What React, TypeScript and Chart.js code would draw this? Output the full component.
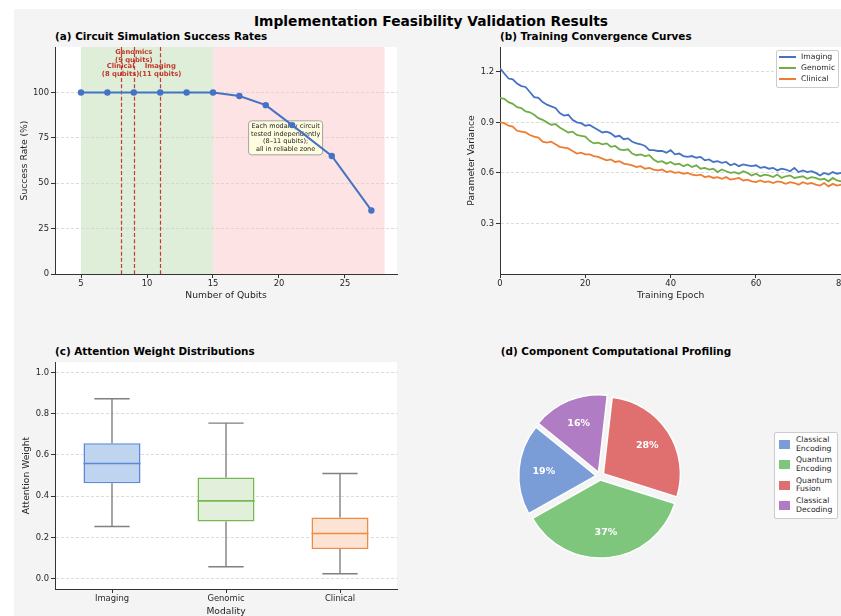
import React, { useEffect, useRef } from 'react';
import { Chart, registerables } from 'chart.js';

Chart.register(...registerables);

// ---------------- Data ----------------
// (a) Circuit simulation success rates
const QUBITS = [5, 7, 9, 11, 13, 15, 17, 19, 21, 24, 27];
const SUCCESS_RATE = [100, 100, 100, 100, 100, 100, 98, 93, 82, 65, 35];
const RELIABLE_ZONE = [5, 15];
const NOISY_ZONE = [15, 28];
const MODALITY_CIRCUITS = ['Clinical', 'Genomics', 'Imaging'];
const MODALITY_QUBITS = [8, 9, 11];
const QUBIT_TICKS = [5, 10, 15, 20, 25];
const SUCCESS_TICKS = [0, 25, 50, 75, 100];
const NOTE_LINES = ['Each modality circuit', 'tested independently', '(8\u201311 qubits);', 'all in reliable zone'];

// (b) Training convergence curves (one value per epoch, 0..80)
const IMAGING_VARIANCE = [
  1.22, 1.19, 1.16, 1.155, 1.13, 1.115, 1.11, 1.08, 1.05, 1.045,
  1.02, 1.005, 0.995, 0.985, 0.955, 0.94, 0.945, 0.915, 0.9, 0.895,
  0.88, 0.885, 0.87, 0.855, 0.84, 0.845, 0.835, 0.815, 0.82, 0.8,
  0.805, 0.785, 0.775, 0.77, 0.76, 0.735, 0.735, 0.73, 0.73, 0.72,
  0.735, 0.71, 0.715, 0.7, 0.695, 0.7, 0.69, 0.695, 0.675, 0.68,
  0.665, 0.67, 0.66, 0.665, 0.645, 0.655, 0.64, 0.65, 0.645, 0.64,
  0.645, 0.63, 0.635, 0.625, 0.63, 0.615, 0.625, 0.62, 0.61, 0.63,
  0.605, 0.615, 0.605, 0.61, 0.6, 0.585, 0.6, 0.59, 0.605, 0.595, 0.6,
];
const GENOMIC_VARIANCE = [
  1.045, 1.04, 1.02, 1.01, 0.99, 0.985, 0.965, 0.96, 0.945, 0.925,
  0.915, 0.9, 0.885, 0.89, 0.87, 0.855, 0.84, 0.845, 0.825, 0.82,
  0.815, 0.79, 0.775, 0.78, 0.77, 0.775, 0.755, 0.76, 0.74, 0.735,
  0.74, 0.715, 0.705, 0.71, 0.7, 0.705, 0.68, 0.665, 0.67, 0.655,
  0.665, 0.65, 0.655, 0.64, 0.65, 0.635, 0.645, 0.625, 0.63, 0.62,
  0.625, 0.605, 0.62, 0.61, 0.6, 0.605, 0.595, 0.61, 0.6, 0.585,
  0.595, 0.58, 0.59, 0.585, 0.575, 0.59, 0.57, 0.58, 0.585, 0.57,
  0.575, 0.58, 0.565, 0.575, 0.57, 0.56, 0.565, 0.55, 0.57, 0.555, 0.55,
];
const CLINICAL_VARIANCE = [
  0.9, 0.895, 0.88, 0.875, 0.85, 0.845, 0.84, 0.825, 0.815, 0.81,
  0.785, 0.78, 0.785, 0.77, 0.755, 0.75, 0.745, 0.73, 0.715, 0.72,
  0.71, 0.71, 0.7, 0.695, 0.685, 0.675, 0.68, 0.665, 0.67, 0.655,
  0.65, 0.645, 0.635, 0.64, 0.625, 0.63, 0.62, 0.615, 0.62, 0.605,
  0.61, 0.6, 0.605, 0.595, 0.6, 0.59, 0.585, 0.59, 0.575, 0.58,
  0.57, 0.575, 0.565, 0.575, 0.56, 0.565, 0.57, 0.555, 0.56, 0.55,
  0.545, 0.555, 0.545, 0.55, 0.54, 0.55, 0.545, 0.535, 0.545, 0.54,
  0.53, 0.545, 0.535, 0.54, 0.53, 0.525, 0.54, 0.52, 0.535, 0.525, 0.53,
];
const EPOCHS = IMAGING_VARIANCE.map((_, i) => i);
const CURVE_NAMES = ['Imaging', 'Genomic', 'Clinical'];
const EPOCH_TICKS = [0, 20, 40, 60, 80];
const VARIANCE_TICKS = [0.3, 0.6, 0.9, 1.2];

// (c) Attention weight distributions
const MODALITIES = ['Imaging', 'Genomic', 'Clinical'];
const WHISKER_LOW = [0.253, 0.058, 0.024];
const Q1 = [0.463, 0.277, 0.144];
const MEDIAN = [0.558, 0.377, 0.219];
const Q3 = [0.656, 0.49, 0.296];
const WHISKER_HIGH = [0.872, 0.754, 0.51];
const WEIGHT_TICKS = [0, 0.2, 0.4, 0.6, 0.8, 1.0];

// (d) Component computational profiling
const COMPONENTS = [['Classical', 'Encoding'], ['Quantum', 'Encoding'], ['Quantum', 'Fusion'], ['Classical', 'Decoding']];
const COMPONENT_SHARE = [19, 37, 28, 16];

// ---------------- Styles ----------------
const FONT = "'DejaVu Sans', 'Liberation Sans', sans-serif";
const AXIS_COLOR = '#333333';
const TEXT_COLOR = '#262626';
const GRID_COLOR = '#d2d2d2';
const LINE_COLORS = ['#4472c4', '#70ad47', '#ed7d31'];
const BOX_FILLS = ['#bfd5ef', '#e2efda', '#fde3d3'];
const BOX_EDGES = ['#5a87d6', '#78b853', '#f08a45'];
const PIE_COLORS = ['#7a9dd8', '#7fc67d', '#e07070', '#b07cc4'];
const TICK_FONT = { family: FONT, size: 8.4 };
const LABEL_FONT = { family: FONT, size: 9.2 };
const PANEL_TITLE_SIZE = 10.4;

const baseOptions = {
  responsive: false,
  maintainAspectRatio: false,
  animation: false,
  events: [],
  plugins: { legend: { display: false }, tooltip: { enabled: false } },
};

function xLinear(min: number, max: number, values: number[], title: string, height: number, fmt: (v: number) => string) {
  return {
    type: 'linear',
    min,
    max,
    afterBuildTicks: (s: any) => { s.ticks = values.map((v) => ({ value: v })); },
    afterFit: (s: any) => { s.height = height; },
    grid: { display: true, drawOnChartArea: false, drawTicks: true, tickLength: 4, tickColor: AXIS_COLOR, tickWidth: 1 },
    border: { display: true, color: AXIS_COLOR, width: 1 },
    ticks: { color: TEXT_COLOR, font: TICK_FONT, padding: 1, maxRotation: 0, autoSkip: false, callback: (v: any) => fmt(Number(v)) },
    title: { display: true, text: title, color: TEXT_COLOR, font: LABEL_FONT, padding: 0 },
  };
}

function yLinear(min: number, max: number, values: number[], title: string, width: number, titlePad: number, fmt: (v: number) => string) {
  return {
    type: 'linear',
    min,
    max,
    afterBuildTicks: (s: any) => { s.ticks = values.map((v) => ({ value: v })); },
    afterFit: (s: any) => { s.width = width; },
    grid: { display: true, drawOnChartArea: true, color: GRID_COLOR, lineWidth: 0.8, drawTicks: true, tickLength: 4, tickColor: AXIS_COLOR, tickWidth: 1 },
    border: { display: true, color: AXIS_COLOR, width: 1, dash: [3, 2] },
    ticks: { color: TEXT_COLOR, font: TICK_FONT, padding: 2, autoSkip: false, callback: (v: any) => fmt(Number(v)) },
    title: { display: true, text: title, color: TEXT_COLOR, font: LABEL_FONT, padding: { top: titlePad, bottom: 0 } },
  };
}

const whiteArea = {
  id: 'whiteArea',
  beforeDraw(chart: any) {
    const { ctx, chartArea: a } = chart;
    ctx.save();
    ctx.fillStyle = '#ffffff';
    ctx.fillRect(a.left, a.top, a.right - a.left, a.bottom - a.top);
    ctx.restore();
  },
};

// ---------------- Panel (a) ----------------
const panelAPlugin = {
  id: 'panelA',
  beforeDraw(chart: any) {
    const { ctx, chartArea: a, scales: { x } } = chart;
    ctx.save();
    ctx.fillStyle = '#ffffff';
    ctx.fillRect(a.left, a.top, a.right - a.left, a.bottom - a.top);
    const g0 = x.getPixelForValue(RELIABLE_ZONE[0]);
    const g1 = x.getPixelForValue(RELIABLE_ZONE[1]);
    ctx.fillStyle = '#deeed9';
    ctx.fillRect(g0, a.top, g1 - g0, a.bottom - a.top);
    const r0 = x.getPixelForValue(NOISY_ZONE[0]);
    const r1 = x.getPixelForValue(NOISY_ZONE[1]);
    ctx.fillStyle = '#fde3e3';
    ctx.fillRect(r0, a.top, r1 - r0, a.bottom - a.top);
    ctx.restore();
  },
  beforeDatasetsDraw(chart: any) {
    const { ctx, chartArea: a, scales: { x, y } } = chart;
    ctx.save();
    ctx.strokeStyle = '#c83a3a';
    ctx.lineWidth = 1.2;
    ctx.setLineDash([4, 2.2]);
    MODALITY_QUBITS.forEach((q) => {
      const px = Math.round(x.getPixelForValue(q)) + 0.5;
      ctx.beginPath();
      ctx.moveTo(px, a.top);
      ctx.lineTo(px, a.bottom);
      ctx.stroke();
    });
    ctx.setLineDash([]);
    // note box
    const cx = x.getPixelForValue(20.5);
    const cy = y.getPixelForValue(75);
    const w = 74;
    const h = 34;
    ctx.beginPath();
    ctx.roundRect(cx - w / 2, cy - h / 2, w, h, 3);
    ctx.fillStyle = '#fffde0';
    ctx.fill();
    ctx.strokeStyle = '#a3a3a3';
    ctx.lineWidth = 1;
    ctx.stroke();
    ctx.fillStyle = '#222222';
    ctx.font = `6.5px ${FONT}`;
    ctx.textAlign = 'center';
    ctx.textBaseline = 'middle';
    NOTE_LINES.forEach((t, i) => {
      ctx.fillText(t, cx, cy + (i - 1.5) * 7.4);
    });
    ctx.restore();
  },
  afterDatasetsDraw(chart: any) {
    const { ctx, scales: { x, y } } = chart;
    ctx.save();
    ctx.fillStyle = '#c0392b';
    ctx.font = `bold 6.8px ${FONT}`;
    ctx.textAlign = 'center';
    ctx.textBaseline = 'middle';
    MODALITY_CIRCUITS.forEach((name, i) => {
      const px = x.getPixelForValue(MODALITY_QUBITS[i]);
      const py = y.getPixelForValue(name === 'Genomics' ? 119.8 : 112.1);
      ctx.fillText(name, px, py - 3.8);
      ctx.fillText(`(${MODALITY_QUBITS[i]} qubits)`, px, py + 3.8);
    });
    ctx.restore();
  },
};

function configA() {
  return {
    type: 'line',
    data: {
      datasets: [{
        data: QUBITS.map((q, i) => ({ x: q, y: SUCCESS_RATE[i] })),
        borderColor: LINE_COLORS[0],
        backgroundColor: LINE_COLORS[0],
        borderWidth: 2,
        pointRadius: 3.2,
        pointBackgroundColor: LINE_COLORS[0],
        pointBorderWidth: 0,
        tension: 0,
      }],
    },
    options: {
      ...baseOptions,
      layout: { padding: { top: 6, right: 17, left: 0, bottom: 0 } },
      scales: {
        x: xLinear(3.03, 28.94, QUBIT_TICKS, 'Number of Qubits', 27, (v) => String(v)),
        y: yLinear(0, 125, SUCCESS_TICKS, 'Success Rate (%)', 41, 5.5, (v) => String(v)),
      },
    },
    plugins: [panelAPlugin],
  };
}

// ---------------- Panel (b) ----------------
function configB() {
  const series = [IMAGING_VARIANCE, GENOMIC_VARIANCE, CLINICAL_VARIANCE];
  return {
    type: 'line',
    data: {
      datasets: series.map((s, k) => ({
        label: CURVE_NAMES[k],
        data: EPOCHS.map((e, i) => ({ x: e, y: s[i] })),
        borderColor: LINE_COLORS[k],
        backgroundColor: LINE_COLORS[k],
        borderWidth: 1.8,
        pointRadius: 0,
        tension: 0,
        order: 2 - k,
      })),
    },
    options: {
      ...baseOptions,
      layout: { padding: { top: 6, right: 19.7, left: 0, bottom: 0 } },
      scales: {
        x: xLinear(0, 80, EPOCH_TICKS, 'Training Epoch', 27, (v) => String(v)),
        y: yLinear(0, 1.347, VARIANCE_TICKS, 'Parameter Variance', 39, 5.5, (v) => v.toFixed(1)),
      },
    },
    plugins: [whiteArea],
  };
}

// ---------------- Panel (c) ----------------
const boxPlugin = {
  id: 'boxWhiskers',
  afterDatasetsDraw(chart: any) {
    const { ctx, scales: { y } } = chart;
    const meta = chart.getDatasetMeta(0);
    ctx.save();
    meta.data.forEach((bar: any, i: number) => {
      const { x, width } = bar.getProps(['x', 'width'], true);
      const cap = width * 0.31;
      const yLow = y.getPixelForValue(WHISKER_LOW[i]);
      const yQ1 = y.getPixelForValue(Q1[i]);
      const yQ3 = y.getPixelForValue(Q3[i]);
      const yHigh = y.getPixelForValue(WHISKER_HIGH[i]);
      const yMed = y.getPixelForValue(MEDIAN[i]);
      ctx.strokeStyle = '#808080';
      ctx.lineWidth = 1.4;
      ctx.beginPath();
      ctx.moveTo(x, yQ3); ctx.lineTo(x, yHigh);
      ctx.moveTo(x - cap, yHigh); ctx.lineTo(x + cap, yHigh);
      ctx.moveTo(x, yQ1); ctx.lineTo(x, yLow);
      ctx.moveTo(x - cap, yLow); ctx.lineTo(x + cap, yLow);
      ctx.stroke();
      ctx.strokeStyle = BOX_EDGES[i];
      ctx.lineWidth = 1.6;
      ctx.beginPath();
      ctx.moveTo(x - width / 2, yMed); ctx.lineTo(x + width / 2, yMed);
      ctx.stroke();
    });
    ctx.restore();
  },
};

function configC() {
  return {
    type: 'bar',
    data: {
      labels: MODALITIES,
      datasets: [{
        data: MODALITIES.map((_, i) => [Q1[i], Q3[i]]),
        backgroundColor: BOX_FILLS,
        borderColor: BOX_EDGES,
        borderWidth: 1.5,
        borderSkipped: false,
        barPercentage: 0.5,
        categoryPercentage: 1,
      }],
    },
    options: {
      ...baseOptions,
      layout: { padding: { top: 6, right: 17, left: 0, bottom: 0 } },
      scales: {
        x: {
          type: 'category',
          offset: true,
          afterFit: (s: any) => { s.height = 28; },
          grid: { display: true, offset: false, drawOnChartArea: false, drawTicks: true, tickLength: 4, tickColor: AXIS_COLOR, tickWidth: 1 },
          border: { display: true, color: AXIS_COLOR, width: 1 },
          ticks: { color: TEXT_COLOR, font: TICK_FONT, padding: 1, maxRotation: 0, autoSkip: false },
          title: { display: true, text: 'Modality', color: TEXT_COLOR, font: LABEL_FONT, padding: 0 },
        },
        y: yLinear(-0.05, 1.05, WEIGHT_TICKS, 'Attention Weight', 41, 7.5, (v) => v.toFixed(1)),
      },
    },
    plugins: [whiteArea, boxPlugin],
  };
}

// ---------------- Panel (d) ----------------
const pctPlugin = {
  id: 'pctLabels',
  afterDatasetsDraw(chart: any) {
    const { ctx } = chart;
    const meta = chart.getDatasetMeta(0);
    const data = chart.data.datasets[0].data as number[];
    const total = data.reduce((a, b) => a + b, 0);
    ctx.save();
    ctx.fillStyle = '#ffffff';
    ctx.font = `bold 9.5px ${FONT}`;
    ctx.textAlign = 'center';
    ctx.textBaseline = 'middle';
    meta.data.forEach((arc: any, i: number) => {
      const { x, y, startAngle, endAngle, outerRadius } = arc.getProps(['x', 'y', 'startAngle', 'endAngle', 'outerRadius'], true);
      const mid = (startAngle + endAngle) / 2;
      const d = outerRadius * 0.68 + 4;
      ctx.fillText(`${Math.round((data[i] / total) * 100)}%`, x + Math.cos(mid) * d, y + Math.sin(mid) * d);
    });
    ctx.restore();
  },
};

function configD() {
  // Chart.js draws clockwise; reverse to match the counter-clockwise reference layout
  const order = COMPONENT_SHARE.map((_, i) => COMPONENT_SHARE.length - 1 - i);
  return {
    type: 'pie',
    data: {
      labels: order.map((i) => COMPONENTS[i].join(' ')),
      datasets: [{
        data: order.map((i) => COMPONENT_SHARE[i]),
        backgroundColor: order.map((i) => PIE_COLORS[i]),
        borderColor: '#ffffff',
        borderWidth: 1.5,
        offset: 16,
      }],
    },
    options: {
      ...baseOptions,
      rotation: -51,
      radius: 77,
      layout: { padding: 0 },
    },
    plugins: [pctPlugin],
  };
}

// ---------------- Components ----------------
function ChartCanvas({ left, top, width, height, make }: { left: number; top: number; width: number; height: number; make: () => any }) {
  const ref = useRef<HTMLCanvasElement>(null);
  useEffect(() => {
    const chart = new Chart(ref.current as HTMLCanvasElement, make());
    return () => chart.destroy();
  }, []);
  return (
    <canvas
      ref={ref}
      width={width}
      height={height}
      style={{ position: 'absolute', left, top, width, height }}
    />
  );
}

function Label({ x, y, text, size, bold = false, align = 'left', color = '#000000' }: { x: number; y: number; text: string; size: number; bold?: boolean; align?: 'left' | 'center'; color?: string }) {
  const lh = Math.round(size * 1.3);
  return (
    <div
      style={{
        position: 'absolute',
        left: x,
        top: y - lh / 2,
        lineHeight: `${lh}px`,
        fontSize: size,
        fontFamily: FONT,
        fontWeight: bold ? 'bold' : 'normal',
        color,
        whiteSpace: 'nowrap',
        transform: align === 'center' ? 'translateX(-50%)' : undefined,
      }}
    >
      {text}
    </div>
  );
}

export default function App() {
  return (
    <div style={{ position: 'fixed', left: 0, top: 0, width: 841, height: 616, overflow: 'hidden', background: '#ffffff' }}>
      <div style={{ position: 'absolute', left: 14, top: 9, width: 827, height: 607, background: '#f4f4f4' }} />
      <Label x={431} y={21} text="Implementation Feasibility Validation Results" size={13.8} bold align="center" />

      <Label x={55} y={35.7} text="(a) Circuit Simulation Success Rates" size={PANEL_TITLE_SIZE} bold />
      <ChartCanvas left={14} top={40} width={400} height={261} make={configA} />

      <Label x={500} y={35.7} text="(b) Training Convergence Curves" size={PANEL_TITLE_SIZE} bold />
      <ChartCanvas left={461} top={40} width={400} height={261} make={configB} />
      <div style={{ position: 'absolute', left: 775.5, top: 50, width: 63, height: 37.5, border: '1px solid #cccccc', borderRadius: 2, background: 'rgba(255,255,255,0.85)', boxSizing: 'border-box' }} />
      {CURVE_NAMES.map((name, k) => (
        <React.Fragment key={name}>
          <div style={{ position: 'absolute', left: 778.5, top: 56.7 + k * 11.2 - 1, width: 17.5, height: 2, background: LINE_COLORS[k] }} />
          <Label x={801} y={56.7 + k * 11.2} text={name} size={7.7} color={TEXT_COLOR} />
        </React.Fragment>
      ))}

      <Label x={55} y={350.8} text="(c) Attention Weight Distributions" size={PANEL_TITLE_SIZE} bold />
      <ChartCanvas left={14} top={355} width={400} height={262} make={configC} />

      <Label x={616} y={350.8} text="(d) Component Computational Profiling" size={PANEL_TITLE_SIZE} bold align="center" />
      <ChartCanvas left={500} top={376.4} width={200} height={200} make={configD} />
      <div style={{ position: 'absolute', left: 774, top: 431.7, width: 64.3, height: 87.6, border: '1px solid #cccccc', borderRadius: 2, background: 'rgba(255,255,255,0.85)', boxSizing: 'border-box' }} />
      {COMPONENTS.map((lines, k) => (
        <React.Fragment key={k}>
          <div style={{ position: 'absolute', left: 779, top: 444.3 + k * 20.4 - 4.5, width: 11, height: 9, background: PIE_COLORS[k] }} />
          <Label x={796} y={444.3 + k * 20.4 - 4.3} text={lines[0]} size={7.7} color={TEXT_COLOR} />
          <Label x={796} y={444.3 + k * 20.4 + 4.3} text={lines[1]} size={7.7} color={TEXT_COLOR} />
        </React.Fragment>
      ))}
    </div>
  );
}
